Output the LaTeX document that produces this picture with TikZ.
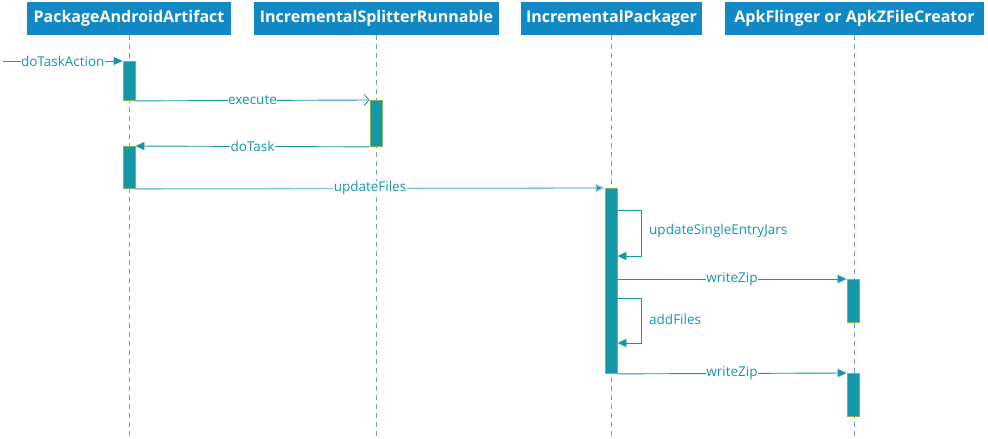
\documentclass[tikz,border=0pt]{standalone}
\usepackage{fontspec}
\setmainfont{Open Sans}
\usetikzlibrary{arrows.meta}
\definecolor{hdr}{HTML}{1289C4}
\definecolor{teal1}{HTML}{1597A8}
\definecolor{tealL}{HTML}{7CC8D2}
\definecolor{life}{HTML}{6F9FD8}
\definecolor{actb}{HTML}{84B35A}
\tikzset{
  x=1pt, y=-1pt,
  header/.style={fill=hdr, text=white, font=\bfseries\fontsize{16}{18}\selectfont, inner sep=0pt, minimum height=33pt, anchor=north},
  lifeline/.style={life, line width=0.9pt, dash pattern=on 5pt off 4pt},
  actbox/.style={fill=teal1, draw=actb, line width=0.9pt, minimum width=12pt, inner sep=0pt, anchor=north},
  msg/.style={teal1, line width=0.9pt, -{Triangle[length=9pt,width=8pt]}},
  msglight/.style={tealL, line width=1.3pt, -{Triangle[length=9pt,width=8pt,fill=teal1]}},
  msgopen/.style={teal1, line width=0.9pt, -{Straight Barb[length=5pt,width=11pt,line width=0.8pt]}},
  lbl/.style={fill=white, text=teal1, inner sep=0.5pt, font=\fontsize{13.5}{15}\selectfont},
  sidelbl/.style={text=teal1, inner sep=0pt, anchor=west, font=\fontsize{13.5}{15}\selectfont},
}
\begin{document}
\begin{tikzpicture}
\useasboundingbox (0,0) rectangle (988,439);
% headers
\node[header, minimum width=204pt] (hA) at (129,2) {PackageAndroidArtifact};
\node[header, minimum width=245pt] (hB) at (376.5,2) {IncrementalSplitterRunnable};
\node[header, minimum width=181pt] (hC) at (611.5,2) {IncrementalPackager};
\node[header, minimum width=259pt] (hD) at (854.5,2) {ApkFlinger or ApkZFileCreator};
% lifeline ends
\coordinate (eA) at (129,439);
\coordinate (eB) at (376,439);
\coordinate (eC) at (611,439);
\coordinate (eD) at (854,439);
\draw[lifeline] (hA.south -| eA) -- (eA);
\draw[lifeline] (hB.south -| eB) -- (eB);
\draw[lifeline] (hC.south -| eC) -- (eC);
\draw[lifeline] (hD.south -| eD) -- (eD);
% activation boxes
\node[actbox, minimum height=39pt] (a1) at (129,61) {};
\node[actbox, minimum height=46pt] (b1) at (376,100) {};
\node[actbox, minimum height=42pt] (a2) at (129,146) {};
\node[actbox, minimum height=185pt] (c1) at (611,188) {};
\node[actbox, minimum height=43pt] (d1) at (853,279) {};
\node[actbox, minimum height=43pt] (d2) at (853,373) {};
% messages
\coordinate (start) at (3,61);
\draw[msg] (start) -- node[lbl] {doTaskAction} (a1.north west);
\draw[msgopen] (a1.south east) -- node[lbl] {execute} (b1.north west);
\draw[msg] (b1.south west) -- node[lbl] {doTask} (a2.north east);
\draw[msglight] (a2.south east) -- node[lbl] {updateFiles} (c1.north west);
% self loop 1
\coordinate (s1) at (641,210);
\coordinate (s1b) at (641,256);
\draw[msg] (s1 -| c1.east) -- (s1) -- (s1b) -- (s1b -| c1.east);
\node[sidelbl] (l1) at (649,231) {updateSingleEntryJars};
\draw[msg] (c1.east |- d1.north) -- node[lbl] {writeZip} (d1.north west);
% self loop 2
\coordinate (s2) at (641,298);
\coordinate (s2b) at (641,343);
\draw[msg] (s2 -| c1.east) -- (s2) -- (s2b) -- (s2b -| c1.east);
\node[sidelbl] (l2) at (649,319) {addFiles};
\draw[msg] (c1.south east) -- node[lbl] {writeZip} (d2.north west);
\end{tikzpicture}
\end{document}
